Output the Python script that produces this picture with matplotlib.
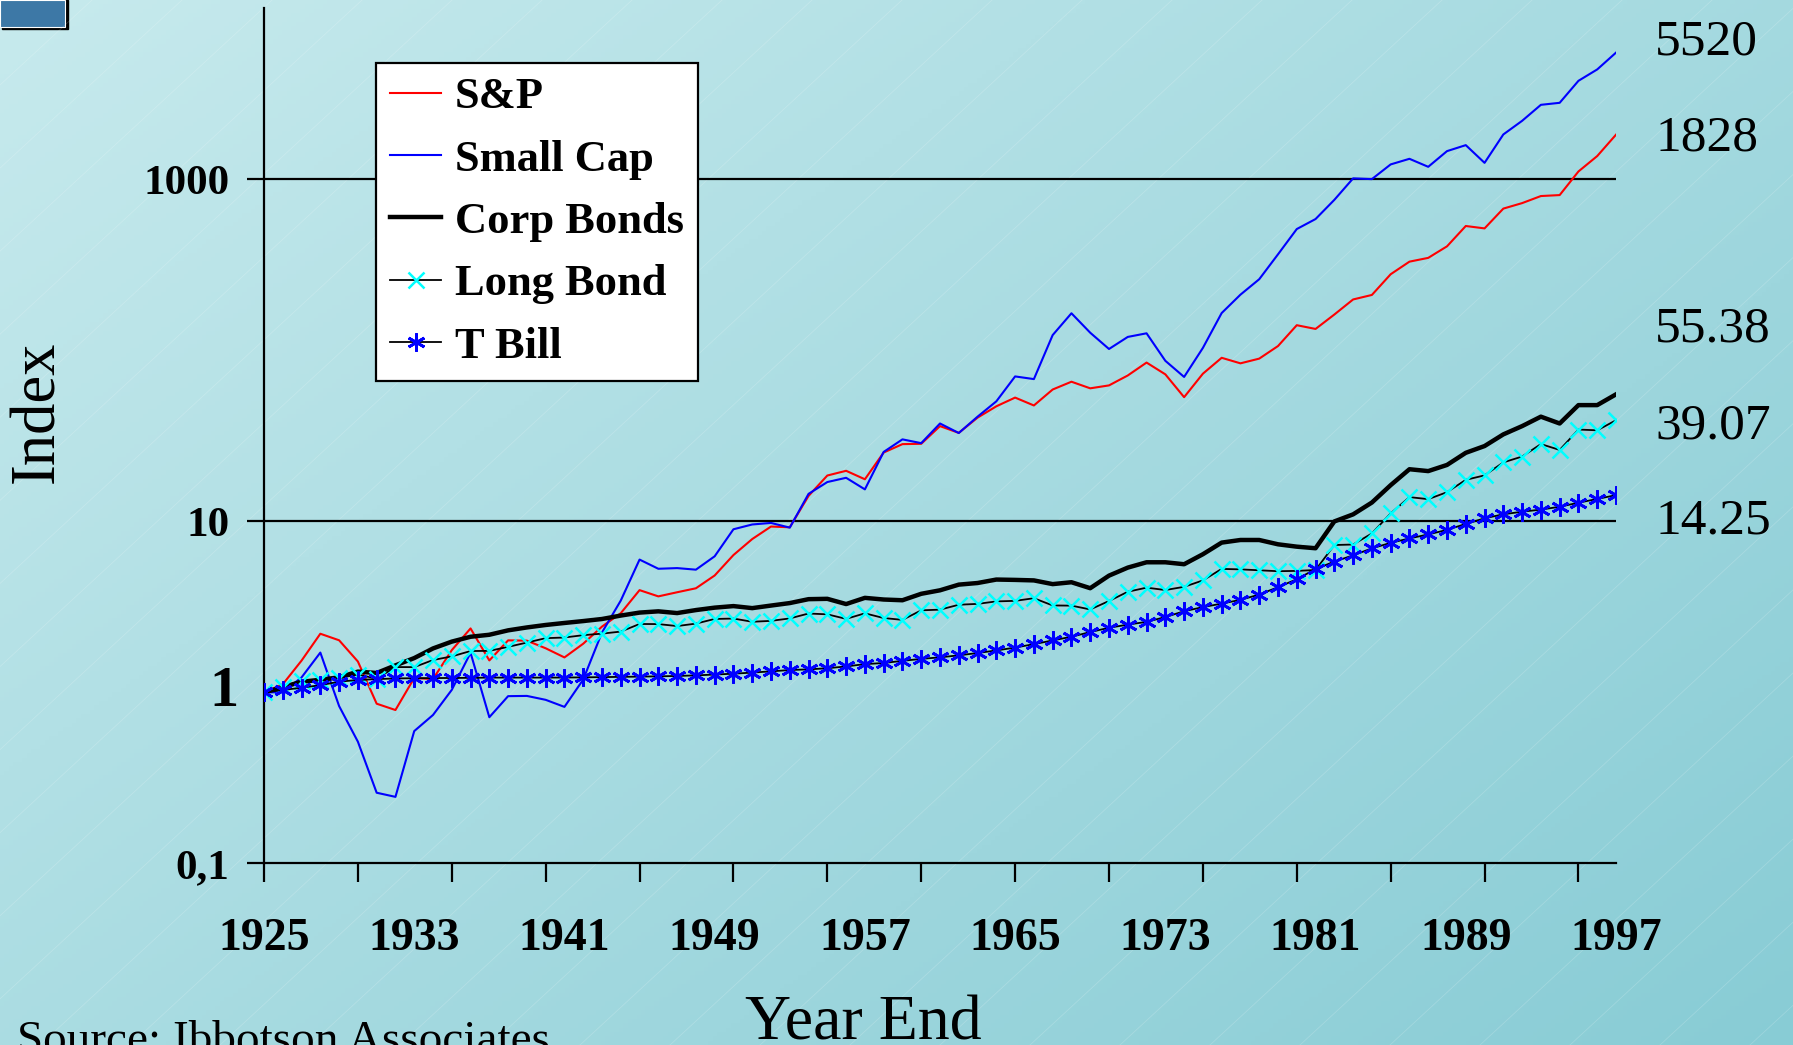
import numpy as np
import matplotlib.pyplot as plt
from matplotlib.patches import Rectangle

plt.rcParams['font.family'] = ['Liberation Serif', 'DejaVu Serif']

# Index values, year end, 1925 = 1.00
years = list(range(1925, 1998))

sp500 = [1.000, 1.116, 1.535, 2.204, 2.018, 1.516, 0.859, 0.789, 1.214, 1.197,
         1.767, 2.367, 1.538, 2.016, 2.008, 1.812, 1.602, 1.927, 2.427, 2.906,
         3.965, 3.645, 3.853, 4.065, 4.829, 6.360, 7.888, 9.336, 9.244, 14.108,
         18.561, 19.778, 17.646, 25.298, 28.322, 28.455, 36.106, 32.954, 40.469, 47.139,
         53.008, 47.674, 59.104, 65.642, 60.059, 62.465, 71.406, 84.956, 72.500, 53.311,
         73.144, 90.584, 84.077, 89.592, 106.113, 140.514, 133.616, 162.223, 198.745, 211.199,
         279.117, 330.671, 347.967, 406.458, 534.455, 517.499, 675.592, 727.412, 800.078, 810.538,
         1113.918, 1370.946, 1828.330]

small_cap = [1.000, 1.003, 1.224, 1.710, 0.832, 0.515, 0.259, 0.245, 0.594, 0.738,
             1.035, 1.705, 0.716, 0.951, 0.954, 0.905, 0.823, 1.190, 2.242, 3.446,
             5.983, 5.287, 5.335, 5.223, 6.254, 9.0, 9.6, 9.8, 9.2, 14.5,
             17.0, 18.0, 15.4, 25.5, 30.2, 28.7, 37.4, 32.9, 41.0, 50.4,
             70.5, 68.0, 123, 165, 127, 102, 120, 126, 87, 70,
             103.5, 165.5, 212, 261, 365, 513, 587, 760, 1015, 1005,
             1225, 1321, 1186, 1465, 1588, 1251, 1834, 2203, 2733, 2808,
             3776, 4402, 5520]

corp_bonds = [1.000, 1.074, 1.154, 1.186, 1.225, 1.323, 1.299, 1.439, 1.588, 1.808,
              1.982, 2.116, 2.174, 2.307, 2.399, 2.480, 2.548, 2.614, 2.688, 2.815,
              2.930, 2.980, 2.911, 3.031, 3.132, 3.198, 3.112, 3.221, 3.331, 3.511,
              3.527, 3.287, 3.573, 3.494, 3.460, 3.774, 3.956, 4.270, 4.364, 4.572,
              4.551, 4.52, 4.30, 4.41, 4.07, 4.82, 5.37, 5.77, 5.77, 5.62,
              6.43, 7.52, 7.79, 7.79, 7.35, 7.12, 6.97, 10.0, 11.0, 12.9,
              16.3, 20.2, 19.7, 21.4, 25.2, 27.6, 32.3, 36.1, 41.0, 37.4,
              47.9, 47.9, 55.38]

long_bond = [1.000, 1.078, 1.174, 1.175, 1.215, 1.272, 1.204, 1.407, 1.406, 1.547,
             1.624, 1.746, 1.750, 1.847, 1.957, 2.076, 2.095, 2.162, 2.207, 2.269,
             2.513, 2.510, 2.444, 2.526, 2.689, 2.704, 2.590, 2.621, 2.709, 2.894,
             2.862, 2.693, 2.901, 2.723, 2.657, 3.020, 3.049, 3.257, 3.295, 3.407,
             3.432, 3.555, 3.226, 3.218, 3.057, 3.425, 3.879, 4.100, 3.970, 4.146,
             4.519, 5.277, 5.244, 5.179, 5.116, 5.138, 5.200, 7.279, 7.328, 8.509,
             11.144, 13.873, 13.502, 14.830, 17.512, 18.596, 22.152, 23.962, 28.345, 26.189,
             34.473, 34.112, 39.07]

t_bill = [1.000, 1.033, 1.065, 1.103, 1.155, 1.183, 1.196, 1.207, 1.211, 1.213,
          1.215, 1.217, 1.221, 1.221, 1.221, 1.221, 1.222, 1.225, 1.229, 1.233,
          1.237, 1.242, 1.248, 1.258, 1.272, 1.287, 1.306, 1.328, 1.352, 1.364,
          1.385, 1.419, 1.464, 1.486, 1.530, 1.571, 1.604, 1.648, 1.700, 1.760,
          1.829, 1.916, 2.014, 2.117, 2.254, 2.389, 2.492, 2.586, 2.760, 2.984,
          3.154, 3.307, 3.479, 3.735, 4.126, 4.592, 5.267, 5.822, 6.335, 6.959,
          7.496, 7.958, 8.393, 8.926, 9.673, 10.429, 11.012, 11.398, 11.728, 12.186,
          12.868, 13.538, 14.250]

end_labels = ['5520', '1828', '55.38', '39.07', '14.25']
end_label_y = [42, 138, 329, 426, 521]   # pixel rows of the value labels
label_years = [1925, 1933, 1941, 1949, 1957, 1965, 1973, 1981, 1989, 1997]
tick_years = [1925, 1930, 1935, 1940, 1945, 1950, 1955, 1960, 1965, 1970,
              1975, 1980, 1985, 1990, 1995]
y_ticks = [0.1, 10, 1000]
y_tick_labels = ['0,1', '10', '1000']

W, H = 1793, 1045
fig = plt.figure(figsize=(W / 100, H / 100), dpi=100)

# gradient background with faint diagonal streaks
bg = fig.add_axes([0, 0, 1, 1], zorder=-10)
gx, gy = np.meshgrid(np.linspace(0, 1, 400), np.linspace(0, 1, 240))
t = (0.55 * gx + 0.45 * gy)
c0 = np.array([199, 234, 237]) / 255
c1 = np.array([136, 204, 213]) / 255
bg.imshow(c0 + (c1 - c0) * t[..., None], aspect='auto', extent=[0, W, H, 0])
for x0 in np.arange(-1400, W + 100, 90):
    bg.plot([x0, x0 + 1300], [H, H - 1200], color='white', lw=0.6, alpha=0.18)
bg.add_patch(Rectangle((2, 0), 66, 29, color='black'))
bg.add_patch(Rectangle((0, 0), 65, 27, facecolor='#3d78a6', edgecolor='white', lw=0.8))
bg.set_xlim(0, W)
bg.set_ylim(H, 0)
bg.axis('off')

ax = fig.add_axes([264 / W, 1 - 863.4 / H, (1616 - 264) / W, (863.4 - 8.5) / H])
ax.set_facecolor('none')
ax.set_yscale('log')
ax.set_ylim(0.1, 10000)
ax.set_xlim(1925, 1997)

ax.axhline(10, color='black', lw=1.6, zorder=1)
ax.axhline(1000, color='black', lw=1.6, zorder=1)

l1, = ax.plot(years, sp500, color='red', lw=1.5, zorder=3)
l2, = ax.plot(years, small_cap, color='blue', lw=1.5, zorder=3)
l3, = ax.plot(years, corp_bonds, color='black', lw=3.2, zorder=3)
l4, = ax.plot(years, long_bond, color='black', lw=1.3, marker='x', ms=11,
              mec='cyan', mew=1.8, zorder=3)
l5, = ax.plot(years, t_bill, color='black', lw=1.3, marker=(6, 2, 0), ms=13,
              mec='blue', mew=2.0, zorder=3)

for s in ['top', 'right']:
    ax.spines[s].set_visible(False)
for s in ['left', 'bottom']:
    ax.spines[s].set_linewidth(1.6)

ax.set_yticks(y_ticks)
ax.set_yticklabels(y_tick_labels, fontsize=31, fontweight='bold')
ax.yaxis.set_minor_locator(plt.NullLocator())
ax.tick_params(axis='y', direction='out', length=12, width=1.6, pad=13)
ax.text(-26 / 1352, 1, '1', transform=ax.get_yaxis_transform(), ha='right',
        va='center', fontsize=42, fontweight='bold')

ax.xaxis.remove_overlapping_locs = False
ax.set_xticks(tick_years)
ax.set_xticklabels([])
ax.set_xticks(label_years, minor=True)
ax.set_xticklabels([str(y) for y in label_years], minor=True, fontsize=33, fontweight='bold')
ax.tick_params(axis='x', which='major', direction='out', length=14, width=1.6)
ax.tick_params(axis='x', which='minor', length=0, pad=39)

leg = ax.legend([l1, l2, l3, l4, l5], ['S&P', 'Small Cap', 'Corp Bonds', 'Long Bond', 'T Bill'],
                loc='upper left', bbox_to_anchor=(376 / W, 1 - 63 / H),
                bbox_transform=fig.transFigure, prop={'weight': 'bold', 'size': 32},
                fancybox=False, edgecolor='black', framealpha=1, borderaxespad=0,
                handlelength=1.15, handletextpad=0.3, labelspacing=0.5, borderpad=0.32)
leg.get_frame().set_linewidth(1.6)
leg.set_zorder(5)

for lab, yp in zip(end_labels, end_label_y):
    fig.text(1655 / W, 1 - yp / H, lab, fontsize=37, va='center', ha='left')

fig.text(38 / W, 1 - 412 / H, 'Index', fontsize=45, rotation=90, ha='center', va='center')
fig.text(863 / W, 1 - 1040 / H, 'Year End', fontsize=46, ha='center', va='baseline')
fig.text(17 / W, 1 - 1053 / H, 'Source: Ibbotson Associates', fontsize=34,
         ha='left', va='baseline')

fig.savefig('out.png', dpi=100)
